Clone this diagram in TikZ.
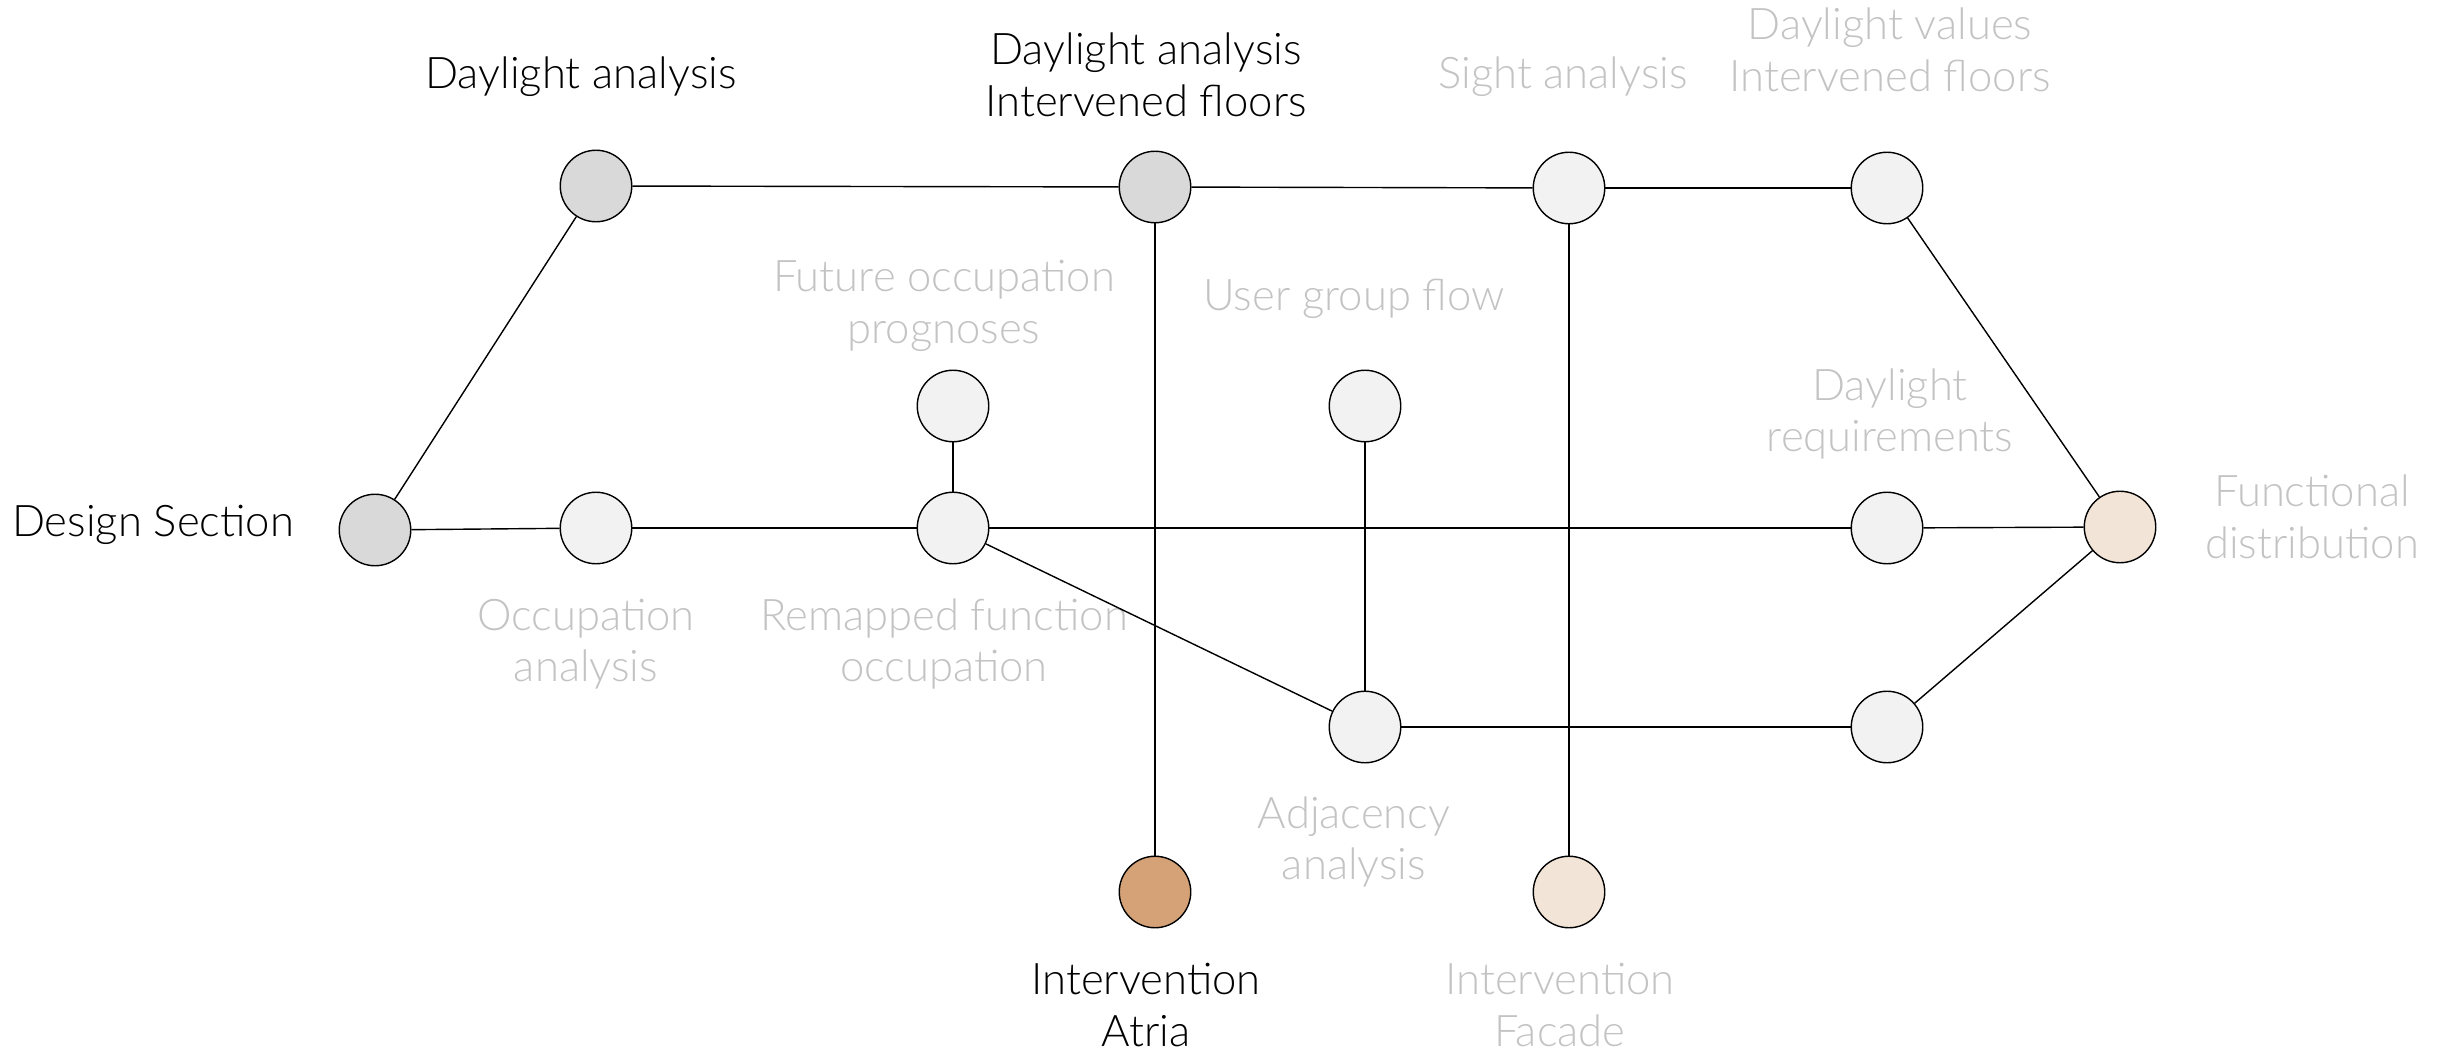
\documentclass[tikz,border=0pt]{standalone}
\usepackage{fontspec}
\setmainfont{Lato Light}
\usepackage{tikz}
\usetikzlibrary{shapes,positioning}
\definecolor{darkfill}{HTML}{D9D9D9}
\definecolor{lightfill}{HTML}{F2F2F2}
\definecolor{atria}{HTML}{D4A276}
\definecolor{facade}{HTML}{F2E4D7}
\definecolor{faded}{HTML}{C3C3C3}
\tikzset{
    line width=0.035cm,
    station/.style ={circle, draw, inner sep=0pt, minimum size=0.715cm},
    done/.style ={station, fill=darkfill},
    todo/.style ={station, fill=lightfill},
    lbl/.style = {align=center, inner sep=0pt, font=\fontsize{12.4}{14.7}\selectfont},
    dim/.style = {lbl, text=faded}
}

\begin{document}
\begin{tikzpicture}
    \useasboundingbox (0,0) rectangle (24.51,10.5);
    % stations
    \node[done] (ds) at (3.75,5.20) {};
    \node[done] (da) at (5.96,8.64) {};
    \node[todo] (oa) at (5.96,5.22) {};
    \node[done] (dai) at (11.55,8.63) {};
    \node[todo] (fop) at (9.53,6.44) {};
    \node[todo] (rfo) at (9.53,5.22) {};
    \node[station,fill=atria] (ia) at (11.55,1.58) {};
    \node[todo] (ugf) at (13.65,6.44) {};
    \node[todo] (aa) at (13.65,3.23) {};
    \node[todo] (sa) at (15.69,8.62) {};
    \node[station,fill=facade] (if) at (15.69,1.58) {};
    \node[todo] (dv) at (18.87,8.62) {};
    \node[todo] (dr) at (18.87,5.22) {};
    \node[todo] (fx) at (18.87,3.23) {};
    \node[station,fill=facade] (fd) at (21.20,5.23) {};

    % labels
    \node[lbl] (ds-l) at (1.53,5.25) {Design Section};
    \node[lbl] (da-l) at (5.81,9.73) {Daylight analysis};
    \node[lbl] (dai-l) at (11.46,9.75) {Daylight analysis\\Intervened floors};
    \node[dim] (sa-l) at (15.63,9.73) {Sight analysis};
    \node[dim] (dv-l) at (18.90,10.00) {Daylight values\\Intervened floors};
    \node[dim] (fop-l) at (9.44,7.44) {Future occupation\\prognoses};
    \node[dim] (ugf-l) at (13.54,7.51) {User group flow};
    \node[dim] (dr-l) at (18.90,6.36) {Daylight\\requirements};
    \node[dim] (fd-l) at (23.12,5.33) {Functional\\distribution};
    \node[dim] (oa-l) at (5.86,4.06) {Occupation\\analysis};
    \node[dim] (rfo-l) at (9.44,4.06) {Remapped function\\occupation};
    \node[dim] (aa-l) at (13.54,2.08) {Adjacency\\analysis};
    \node[lbl] (ia-l) at (11.46,0.45) {Intervention\\Atria};
    \node[dim] (if-l) at (15.60,0.45) {Intervention\\Facade};

    % lines
    \draw (ds) -- (da);
    \draw (ds) -- (oa);
    \draw (oa) -- (rfo);
    \draw (rfo) -- (fop);
    \draw (rfo) -- (dr);
    \draw (dr) -- (fd);
    \draw (rfo) -- (aa);
    \draw (aa) -- (fx);
    \draw (fx) -- (fd);
    \draw (ugf) -- (aa);
    \draw (da) -- (dai);
    \draw (dai) -- (sa);
    \draw (sa) -- (dv);
    \draw (dv) -- (fd);
    \draw (dai) -- (ia);
    \draw (sa) -- (if);
\end{tikzpicture}
\end{document}
